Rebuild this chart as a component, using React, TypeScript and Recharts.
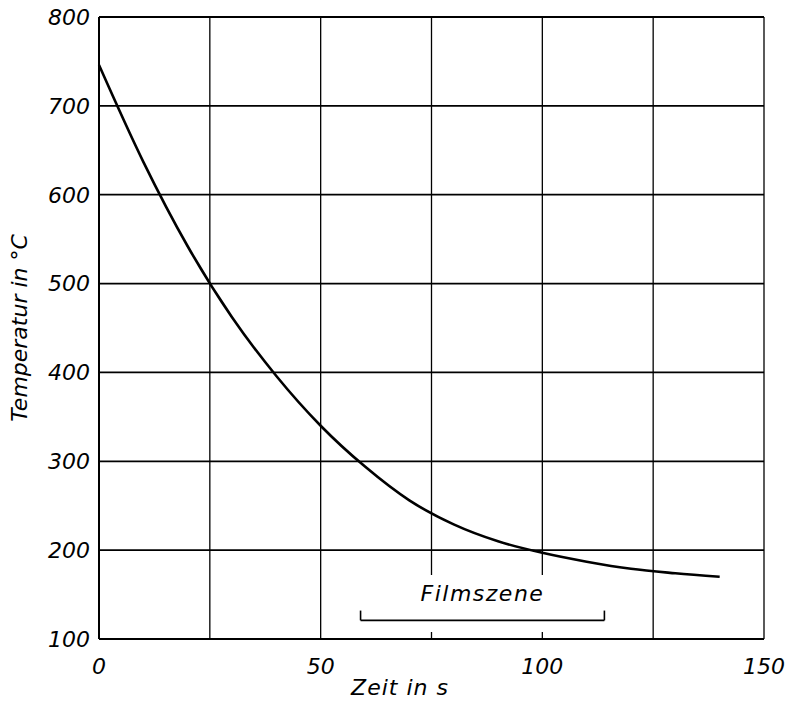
import React from 'react';
import {
  LineChart,
  Line,
  XAxis,
  YAxis,
  CartesianGrid,
  ReferenceLine,
  ReferenceArea,
} from 'recharts';

// Abkühlkurve
const zeit = [0, 10, 20, 30, 40, 50, 60, 70, 80, 90, 100, 110, 120, 130, 140];
const temperatur = [746, 637, 542, 462, 396, 340, 294, 256, 229, 210, 197, 187, 179, 174, 170];

const xTicks = [0, 25, 50, 75, 100, 125, 150];
const yTicks = [100, 200, 300, 400, 500, 600, 700, 800];

// Zeitraum der Filmszene in s
const filmszene = { start: 59, end: 114, label: 'Filmszene' };

const data = zeit.map((t, i) => ({ t, temp: temperatur[i] }));

const FONT = '"DejaVu Sans", sans-serif';
const tickStyle = { fontFamily: FONT, fontSize: 22, fontStyle: 'italic', fill: '#000' };

const App: React.FC = () => {
  return (
    <div style={{ position: 'absolute', left: 0, top: 0, background: '#fff' }}>
      <LineChart width={786} height={709} data={data} margin={{ top: 17, right: 22, bottom: 10, left: 0 }}>
        <CartesianGrid horizontal vertical={false} stroke="#000" strokeWidth={1.8} />
        <CartesianGrid horizontal={false} vertical stroke="#000" strokeWidth={1.3} />
        <ReferenceArea
          x1={filmszene.start}
          x2={filmszene.end}
          y1={108}
          y2={172}
          fill="#fff"
          fillOpacity={1}
          stroke="none"
        />
        <XAxis
          type="number"
          dataKey="t"
          domain={[0, 150]}
          ticks={xTicks}
          tickFormatter={(v: number) => (v % 50 === 0 ? String(v) : '')}
          tickLine={false}
          tickMargin={13}
          axisLine={{ stroke: '#000', strokeWidth: 2 }}
          tick={tickStyle}
          height={60}
          label={{
            content: ({ viewBox }: any) => (
              <text
                x={400}
                y={viewBox.y + 56}
                textAnchor="middle"
                style={{ fontFamily: FONT, fontSize: 22, fontStyle: 'italic', letterSpacing: 1 }}
                fill="#000"
              >
                Zeit in s
              </text>
            ),
          }}
        />
        <YAxis
          type="number"
          domain={[100, 800]}
          ticks={yTicks}
          tickLine={false}
          tickMargin={3}
          axisLine={{ stroke: '#000', strokeWidth: 2 }}
          tick={tickStyle}
          width={99}
          label={{
            content: ({ viewBox }: any) => {
              const cx = 19;
              const cy = viewBox.y + viewBox.height / 2;
              return (
                <text
                  x={cx}
                  y={cy}
                  transform={`rotate(-90 ${cx} ${cy})`}
                  textAnchor="middle"
                  dominantBaseline="central"
                  style={{ fontFamily: FONT, fontSize: 22, fontStyle: 'italic' }}
                  fill="#000"
                >
                  Temperatur in °C
                </text>
              );
            },
          }}
        />
        <ReferenceLine
          segment={[
            { x: filmszene.start, y: 121 },
            { x: filmszene.end, y: 121 },
          ]}
          stroke="#000"
          strokeWidth={1.6}
          label={{
            value: filmszene.label,
            position: 'top',
            offset: 19,
            style: { fontFamily: FONT, fontSize: 22, fontStyle: 'italic', fill: '#000', letterSpacing: 1.5 },
          }}
        />
        <ReferenceLine
          segment={[
            { x: filmszene.start, y: 121 },
            { x: filmszene.start, y: 132 },
          ]}
          stroke="#000"
          strokeWidth={1.6}
        />
        <ReferenceLine
          segment={[
            { x: filmszene.end, y: 121 },
            { x: filmszene.end, y: 132 },
          ]}
          stroke="#000"
          strokeWidth={1.6}
        />
        <Line
          type="monotone"
          dataKey="temp"
          stroke="#000"
          strokeWidth={2.6}
          dot={false}
          isAnimationActive={false}
        />
      </LineChart>
    </div>
  );
};

export default App;
